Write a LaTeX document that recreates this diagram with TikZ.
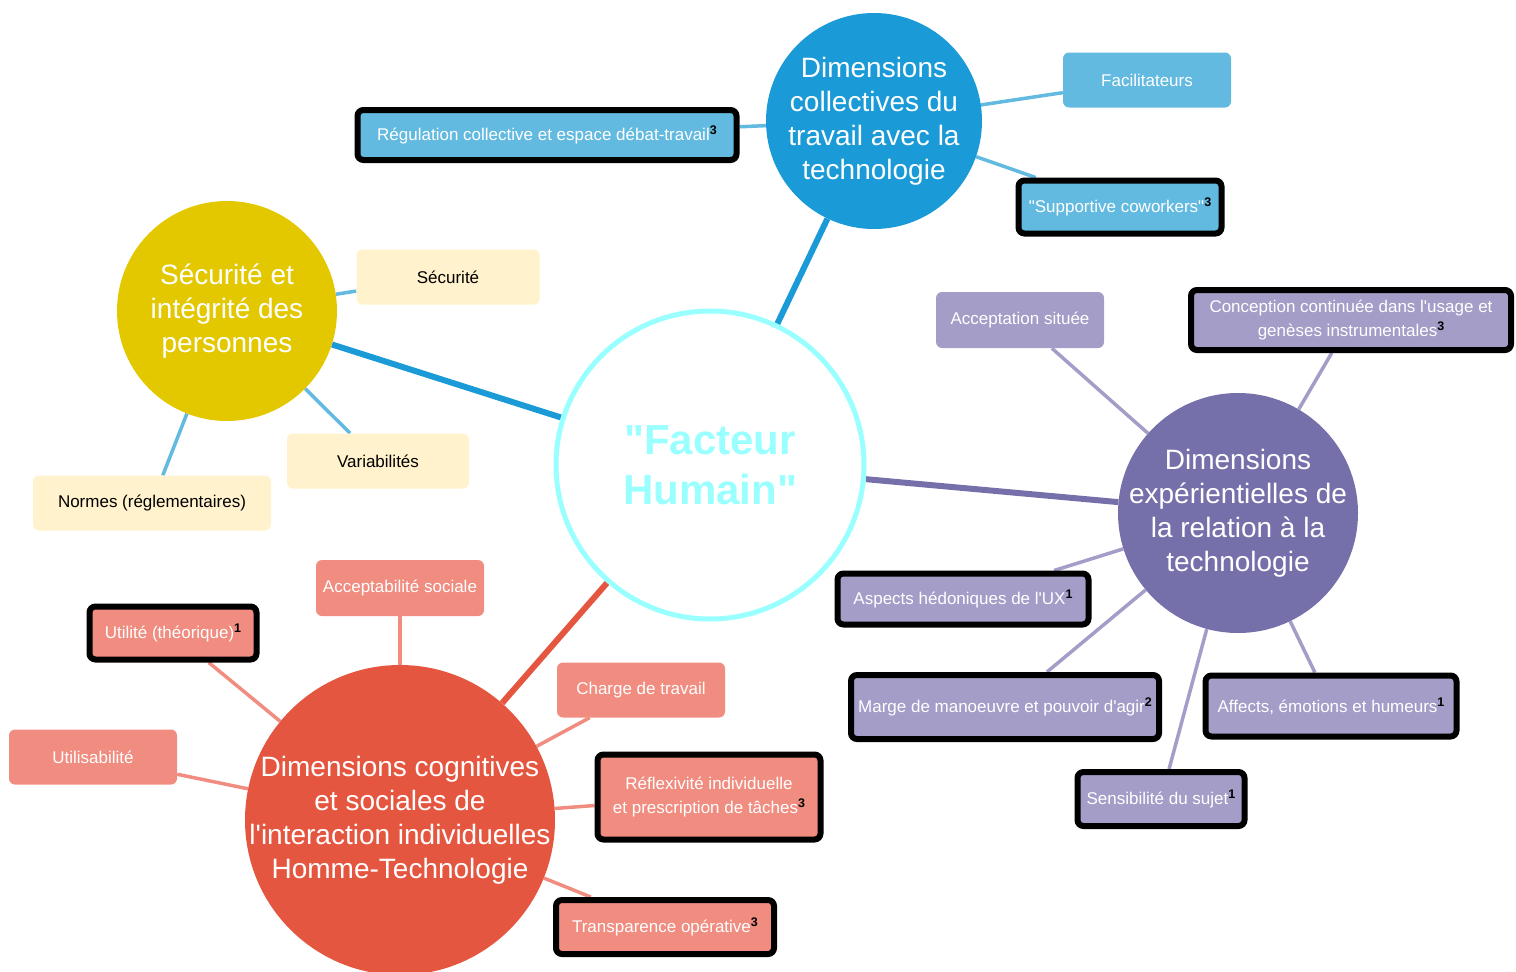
\documentclass[tikz,border=0pt]{standalone}
\usepackage{fontspec}
\setmainfont{Liberation Sans}
\usetikzlibrary{backgrounds}

\definecolor{bleuF}{HTML}{1A9AD6}
\definecolor{bleuC}{HTML}{62BAE0}
\definecolor{jauneF}{HTML}{E3C800}
\definecolor{jauneC}{HTML}{FFF2CC}
\definecolor{violetF}{HTML}{7670AA}
\definecolor{violetC}{HTML}{A39DC8}
\definecolor{rougeF}{HTML}{E55640}
\definecolor{rougeC}{HTML}{F08C80}
\definecolor{cyanFH}{HTML}{99FFFF}

\newcommand{\refnum}[1]{\textcolor{black}{\raisebox{6pt}{\fontsize{12.5}{12.5}\selectfont\bfseries #1}}}
\newcommand{\apos}{\textquotesingle}
\newcommand{\guil}{\textquotedbl}

\tikzset{
  pole/.style={circle, inner sep=-40pt, align=center, text=white,
    font=\fontsize{28}{34}\selectfont},
  feuille/.style={rectangle, rounded corners=6pt, inner sep=2pt, align=center,
    text=white, font=\fontsize{17}{24}\selectfont},
  cadre/.style={feuille, draw=black, line width=6pt},
  branche/.style={line width=6pt},
  rameau/.style={line width=3.5pt}
}

\begin{document}
\begin{tikzpicture}[x=1pt, y=-1pt]
				\useasboundingbox (0,0) rectangle (1516,972);
				
				% Noeud central
				\node[circle, draw=cyanFH, line width=5pt, fill=white, minimum size=308pt,
				  text=cyanFH, align=center, font=\fontsize{42}{50}\selectfont\bfseries]
				  (fh) at (710,465) {\guil Facteur\\Humain\guil};
				
				% Les quatre dimensions
				\node[pole, fill=bleuF, minimum size=216pt] (coll) at (874,121)
				  {Dimensions\\collectives du\\travail avec la\\technologie};
				\node[pole, fill=jauneF, minimum size=220pt] (secu) at (227,311)
				  {Sécurité et\\intégrité des\\personnes};
				\node[pole, fill=violetF, minimum size=240pt] (expe) at (1238,513)
				  {Dimensions\\expérientielles de\\la relation à la\\technologie};
				\node[pole, fill=rougeF, minimum size=310pt] (cogn) at (400,820)
				  {Dimensions cognitives\\et sociales de\\l\apos interaction individuelles\\Homme-Technologie};
				
				% Dimensions collectives
				\node[cadre, fill=bleuC, minimum width=379pt, minimum height=50pt] (regul) at (547,135)
				  {Régulation collective et espace débat-travail\refnum{3}};
				\node[feuille, fill=bleuC, minimum width=168pt, minimum height=55pt] (facil) at (1147,80)
				  {Facilitateurs};
				\node[cadre, fill=bleuC, minimum width=203pt, minimum height=53pt] (suppo) at (1120,207)
				  {\guil Supportive coworkers\guil\refnum{3}};
				
				% Securite
				\node[feuille, fill=jauneC, text=black, minimum width=183pt, minimum height=55pt] (secur) at (448,277)
				  {Sécurité};
				\node[feuille, fill=jauneC, text=black, minimum width=182pt, minimum height=55pt] (varia) at (378,461)
				  {Variabilités};
				\node[feuille, fill=jauneC, text=black, minimum width=238pt, minimum height=55pt] (norme) at (152,503)
				  {Normes (réglementaires)};
				
				% Dimensions experientielles
				\node[feuille, fill=violetC, minimum width=168pt, minimum height=56pt] (accep) at (1020,320)
				  {Acceptation située};
				\node[cadre, fill=violetC, minimum width=320pt, minimum height=60pt] (conce) at (1351,320)
				  {Conception continuée dans l\apos usage et\\genèses instrumentales\refnum{3}};
				\node[cadre, fill=violetC, minimum width=251pt, minimum height=51pt] (hedon) at (963,599)
				  {Aspects hédoniques de l\apos UX\refnum{1}};
				\node[cadre, fill=violetC, minimum width=308pt, minimum height=64pt] (marge) at (1005,707)
				  {Marge de manoeuvre et pouvoir d\apos agir\refnum{2}};
				\node[cadre, fill=violetC, minimum width=251pt, minimum height=61pt] (affec) at (1331,706)
				  {Affects, émotions et humeurs\refnum{1}};
				\node[cadre, fill=violetC, minimum width=167pt, minimum height=54pt] (sensi) at (1161,799)
				  {Sensibilité du sujet\refnum{1}};
				
				% Dimensions cognitives et sociales
				\node[feuille, fill=rougeC, minimum width=168pt, minimum height=56pt] (socia) at (400,588)
				  {Acceptabilité sociale};
				\node[cadre, fill=rougeC, minimum width=167pt, minimum height=53pt] (utili) at (173,633)
				  {Utilité (théorique)\refnum{1}};
				\node[feuille, fill=rougeC, minimum width=168pt, minimum height=55pt] (usabi) at (93,757)
				  {Utilisabilité};
				\node[feuille, fill=rougeC, minimum width=168pt, minimum height=55pt] (charg) at (641,690)
				  {Charge de travail};
				\node[cadre, fill=rougeC, minimum width=223pt, minimum height=85pt] (refle) at (709,797)
				  {Réflexivité individuelle\\et prescription de tâches\refnum{3}};
				\node[cadre, fill=rougeC, minimum width=218pt, minimum height=54pt] (trans) at (665,927)
				  {Transparence opérative\refnum{3}};
				
				% Liens
				\begin{scope}[on background layer]
				\draw[branche, bleuF] (fh) -- (coll);
				\draw[branche, bleuF] (fh) -- (secu);
				\draw[branche, violetF] (fh) -- (expe);
				\draw[branche, rougeF] (fh) -- (cogn);
				
				\foreach \f in {regul, facil, suppo}
				  \draw[rameau, bleuC] (coll) -- (\f);
				\foreach \f in {secur, varia, norme}
				  \draw[rameau, bleuC] (secu) -- (\f);
				\foreach \f in {accep, conce, hedon, marge, affec, sensi}
				  \draw[rameau, violetC] (expe) -- (\f);
				\foreach \f in {socia, utili, usabi, charg, refle, trans}
				  \draw[rameau, rougeC] (cogn) -- (\f);
				\end{scope}
			\end{tikzpicture}
\end{document}
